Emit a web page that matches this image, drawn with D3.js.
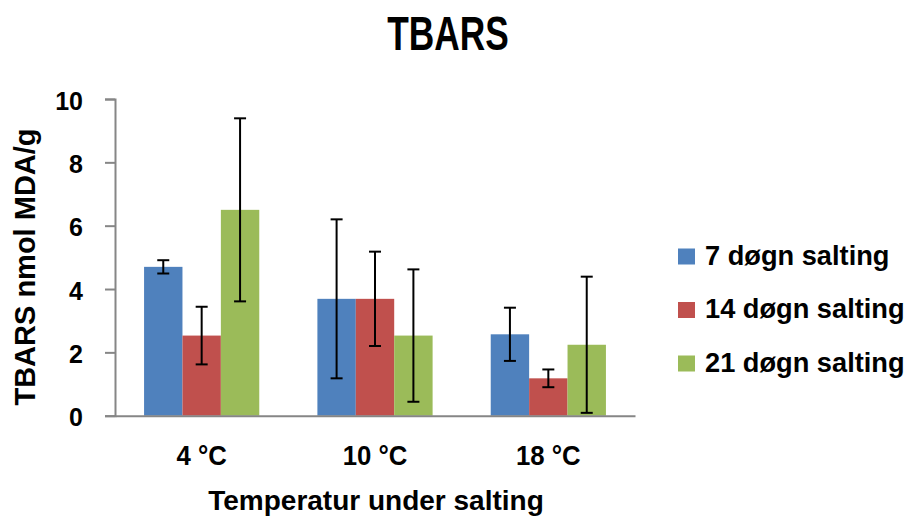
<!DOCTYPE html>
<html><head><meta charset="utf-8">
<script src="https://cdn.jsdelivr.net/npm/d3@7"></script>
<style>
body{margin:0;background:#fff;}
text{font-family:"Liberation Sans",Arial,sans-serif;font-weight:bold;fill:#000;}
</style></head>
<body>
<svg id="chart" width="906" height="518"></svg>
<script>
const categories = ["4 °C", "10 °C", "18 °C"];
const seriesNames = ["7 døgn salting", "14 døgn salting", "21 døgn salting"];
const values7 = [4.70, 3.69, 2.57];
const values14 = [2.53, 3.69, 1.18];
const values21 = [6.50, 2.53, 2.24];
const err7 = [0.21, 2.51, 0.84];
const err14 = [0.91, 1.49, 0.28];
const err21 = [2.89, 2.09, 2.15];
const yTicks = [0, 2, 4, 6, 8, 10];
const colors = ["#4F81BD", "#C0504D", "#9BBB59"];

const series = [
  {name: seriesNames[0], values: values7, errs: err7},
  {name: seriesNames[1], values: values14, errs: err14},
  {name: seriesNames[2], values: values21, errs: err21}
];

const svg = d3.select("#chart");
const plotLeft = 115, plotRight = 635, plotTop = 99, plotBottom = 415.7;

const x0 = d3.scaleBand().domain(categories).range([plotLeft, plotRight]).paddingInner(0).paddingOuter(0);
const barW = 38.4;
const x1 = d3.scaleBand().domain(seriesNames).range([0, barW * 3]);
const y = d3.scaleLinear().domain([0, 10]).range([plotBottom, plotTop]);

// Title (condensed look)
svg.append("text").attr("transform", "translate(448,50) scale(0.72,1)").attr("text-anchor", "middle")
  .style("font-size", "49px").text("TBARS");

// Bars
const groups = svg.append("g").selectAll("g").data(categories).join("g")
  .attr("transform", c => `translate(${x0(c) + (x0.bandwidth() - barW * 3) / 2},0)`);

series.forEach((s, si) => {
  groups.append("rect")
    .attr("x", x1(s.name))
    .attr("width", x1.bandwidth())
    .attr("y", (c, i) => y(s.values[i]))
    .attr("height", (c, i) => y(0) - y(s.values[i]))
    .attr("fill", colors[si]);
});

// Error bars
series.forEach((s, si) => {
  groups.each(function(c, i) {
    const g = d3.select(this);
    const cx = x1(s.name) + x1.bandwidth() / 2;
    const hi = y(s.values[i] + s.errs[i]);
    const lo = y(s.values[i] - s.errs[i]);
    g.append("line").attr("x1", cx).attr("x2", cx).attr("y1", hi).attr("y2", lo)
      .attr("stroke", "#000").attr("stroke-width", 2);
    [hi, lo].forEach(yy => g.append("line").attr("x1", cx - 6).attr("x2", cx + 6)
      .attr("y1", yy).attr("y2", yy).attr("stroke", "#000").attr("stroke-width", 2));
  });
});

// Y axis
const yAxis = d3.axisLeft(y).tickValues(yTicks).tickSize(10).tickPadding(22).tickFormat(d3.format("d"));
const ya = svg.append("g").attr("transform", `translate(${plotLeft},0)`).call(yAxis);
ya.select(".domain").attr("stroke", "#868686").attr("stroke-width", 2);
ya.selectAll(".tick line").attr("stroke", "#868686").attr("stroke-width", 2);
ya.selectAll(".tick text").style("font-size", "25px").attr("font-family", null).attr("dy", "0.4em");

// X axis
const xAxis = d3.axisBottom(x0).tickSize(0).tickPadding(29);
const xa = svg.append("g").attr("transform", `translate(0,${plotBottom})`).call(xAxis);
xa.select(".domain").attr("stroke", "#868686").attr("stroke-width", 2);
xa.selectAll(".tick text").style("font-size", "28px").attr("font-family", null)
  .attr("transform", "scale(0.92,1)").attr("dy", "0.71em");

// Axis titles
svg.append("text").attr("x", 376).attr("y", 510).attr("text-anchor", "middle")
  .style("font-size", "28px").text("Temperatur under salting");
svg.append("text").attr("transform", "translate(35,267) rotate(-90)").attr("text-anchor", "middle")
  .style("font-size", "29px").text("TBARS nmol MDA/g");

// Legend
const legend = svg.append("g").selectAll("g").data(series).join("g")
  .attr("transform", (d, i) => `translate(678,${248.5 + i * 53.5})`);
legend.append("rect").attr("width", 17).attr("height", 16).attr("fill", (d, i) => colors[i]);
legend.append("text").attr("transform", "translate(27,16) scale(0.955,1)").style("font-size", "28.5px").text(d => d.name);
</script>
</body></html>
